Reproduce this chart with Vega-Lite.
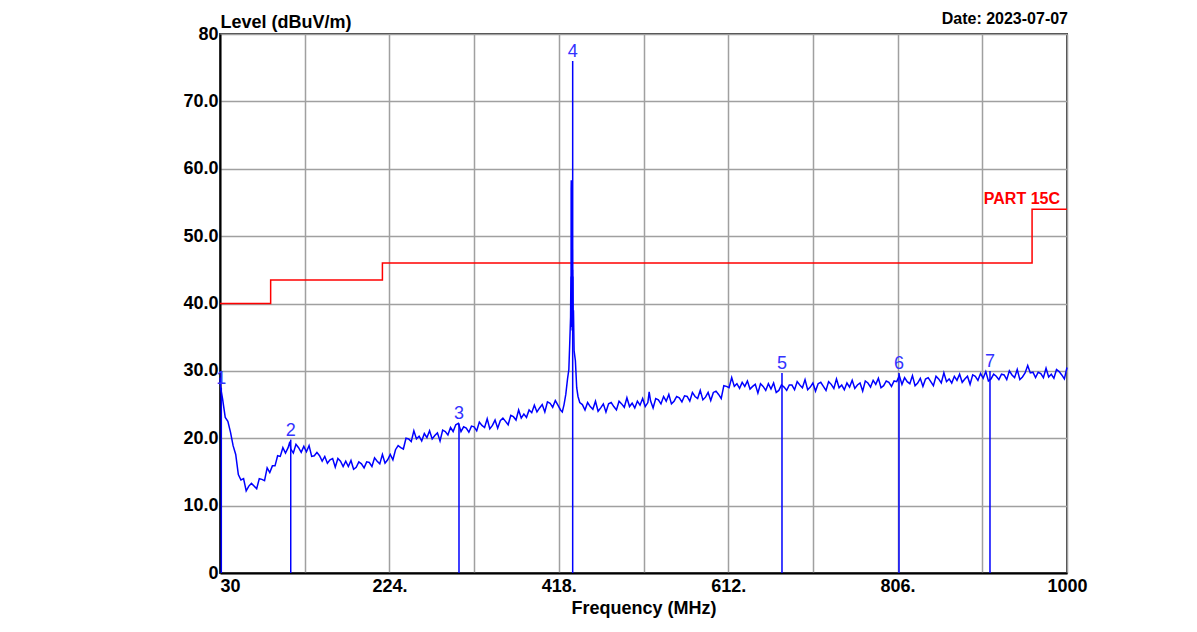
{
  "$schema": "https://vega.github.io/schema/vega-lite/v6.json",
  "width": 847,
  "height": 539,
  "autosize": {"type": "none"},
  "padding": {"left": 220, "top": 34, "right": 130, "bottom": 59},
  "background": "white",
  "config": {
    "font": "Liberation Sans",
    "view": {"stroke": "#404040", "strokeWidth": 2}
  },
  "datasets": {
    "limit": [
      {"i": 1, "f": 30, "v": 40},
      {"i": 2, "f": 88, "v": 40},
      {"i": 3, "f": 88, "v": 43.5},
      {"i": 4, "f": 216, "v": 43.5},
      {"i": 5, "f": 216, "v": 46},
      {"i": 6, "f": 960, "v": 46},
      {"i": 7, "f": 960, "v": 54},
      {"i": 8, "f": 1000, "v": 54}
    ],
    "markers": [
      {"m": "1", "f": 31.5, "v": 27.5},
      {"m": "2", "f": 111, "v": 19.8},
      {"m": "3", "f": 303.7, "v": 22.2},
      {"m": "4", "f": 433.9, "v": 76},
      {"m": "5", "f": 673.6, "v": 29.7},
      {"m": "6", "f": 807.6, "v": 29.7},
      {"m": "7", "f": 911.8, "v": 30}
    ],
    "notes": [
      {"t": "PART 15C", "f": 1000, "v": 54, "k": "limit"},
      {"t": "Date: 2023-07-07", "f": 1000, "v": 80, "k": "date"}
    ],
    "trace": [
      {"f":30,"v":29.0},{"f":31,"v":27.3},{"f":33,"v":25.8},{"f":36,"v":23.1},{"f":39,"v":22.5},{"f":42,"v":20.9},{"f":45,"v":18.9},{"f":48,"v":17.6},{"f":51,"v":14.6},{"f":54,"v":13.8},{"f":57,"v":14.0},{"f":60,"v":12.2},{"f":63,"v":12.9},{"f":66,"v":13.3},{"f":69,"v":12.9},{"f":72,"v":12.5},{"f":75,"v":14.0},{"f":78,"v":13.9},{"f":81,"v":13.7},{"f":84,"v":15.6},{"f":87,"v":14.9},{"f":90,"v":15.9},{"f":93,"v":15.9},{"f":96,"v":17.4},{"f":99,"v":17.3},{"f":102,"v":18.6},{"f":105,"v":17.8},{"f":108,"v":18.6},{"f":110,"v":19.5},{"f":111,"v":18.4},{"f":114,"v":17.8},{"f":117,"v":19.1},{"f":120,"v":18.6},{"f":123,"v":17.9},{"f":126,"v":18.8},{"f":129,"v":18.0},{"f":132,"v":18.9},{"f":135,"v":17.3},{"f":138,"v":17.4},{"f":141,"v":17.9},{"f":144,"v":17.4},{"f":147,"v":16.6},{"f":150,"v":17.3},{"f":153,"v":16.3},{"f":156,"v":16.8},{"f":159,"v":17.0},{"f":162,"v":15.7},{"f":165,"v":17.0},{"f":168,"v":16.6},{"f":171,"v":15.8},{"f":174,"v":16.6},{"f":177,"v":15.8},{"f":180,"v":16.7},{"f":183,"v":15.4},{"f":186,"v":15.7},{"f":189,"v":16.5},{"f":192,"v":16.2},{"f":195,"v":15.6},{"f":198,"v":16.5},{"f":201,"v":16.4},{"f":204,"v":15.8},{"f":207,"v":17.1},{"f":210,"v":16.6},{"f":213,"v":16.2},{"f":216,"v":17.6},{"f":219,"v":16.3},{"f":222,"v":16.8},{"f":225,"v":17.6},{"f":228,"v":16.8},{"f":231,"v":18.3},{"f":234,"v":18.9},{"f":237,"v":18.6},{"f":240,"v":18.4},{"f":243,"v":20.0},{"f":246,"v":19.9},{"f":249,"v":19.5},{"f":252,"v":21.1},{"f":255,"v":19.9},{"f":258,"v":20.3},{"f":261,"v":19.6},{"f":264,"v":20.7},{"f":267,"v":20.1},{"f":270,"v":21.1},{"f":273,"v":19.9},{"f":276,"v":20.4},{"f":279,"v":20.8},{"f":282,"v":19.6},{"f":285,"v":21.2},{"f":288,"v":21.0},{"f":291,"v":20.5},{"f":294,"v":21.6},{"f":297,"v":21.0},{"f":300,"v":22.0},{"f":303,"v":22.2},{"f":306,"v":21.0},{"f":309,"v":21.7},{"f":312,"v":21.5},{"f":315,"v":20.9},{"f":318,"v":21.8},{"f":321,"v":21.7},{"f":324,"v":21.1},{"f":327,"v":22.4},{"f":330,"v":21.9},{"f":333,"v":21.6},{"f":336,"v":22.9},{"f":339,"v":21.4},{"f":342,"v":21.9},{"f":345,"v":22.7},{"f":348,"v":21.5},{"f":351,"v":22.6},{"f":354,"v":23.0},{"f":357,"v":22.5},{"f":360,"v":22.0},{"f":363,"v":23.4},{"f":366,"v":23.2},{"f":369,"v":22.7},{"f":372,"v":24.2},{"f":375,"v":23.0},{"f":378,"v":23.6},{"f":381,"v":23.1},{"f":384,"v":24.2},{"f":387,"v":23.8},{"f":390,"v":24.9},{"f":393,"v":23.9},{"f":396,"v":24.5},{"f":399,"v":25.0},{"f":402,"v":23.9},{"f":405,"v":25.4},{"f":408,"v":25.2},{"f":411,"v":24.6},{"f":414,"v":25.6},{"f":417,"v":24.9},{"f":420,"v":24.2},{"f":422,"v":23.9},{"f":424,"v":25.0},{"f":426,"v":26.5},{"f":428,"v":28.8},{"f":429.5,"v":30.2},{"f":430.5,"v":34.0},{"f":431.5,"v":38.0},{"f":431.85,"v":44.0},{"f":432.0,"v":36.5},{"f":432.15,"v":57.0},{"f":432.3,"v":58.3},{"f":432.45,"v":40.0},{"f":432.6,"v":55.0},{"f":432.75,"v":37.0},{"f":432.9,"v":51.3},{"f":433.05,"v":38.0},{"f":433.2,"v":50.0},{"f":433.35,"v":36.0},{"f":433.5,"v":48.0},{"f":433.65,"v":39.0},{"f":433.8,"v":45.0},{"f":434.0,"v":38.0},{"f":434.2,"v":44.0},{"f":434.5,"v":37.0},{"f":434.8,"v":39.0},{"f":435.5,"v":33.0},{"f":437,"v":31.5},{"f":438.5,"v":27.5},{"f":440,"v":26.2},{"f":442,"v":25.3},{"f":445,"v":25.0},{"f":448,"v":24.2},{"f":451,"v":25.3},{"f":454,"v":24.7},{"f":457,"v":24.3},{"f":460,"v":25.5},{"f":463,"v":24.0},{"f":466,"v":24.5},{"f":469,"v":25.1},{"f":472,"v":23.9},{"f":475,"v":25.1},{"f":478,"v":25.3},{"f":481,"v":24.7},{"f":484,"v":24.2},{"f":487,"v":25.5},{"f":490,"v":25.1},{"f":493,"v":24.6},{"f":496,"v":26.0},{"f":499,"v":24.7},{"f":502,"v":25.2},{"f":505,"v":24.5},{"f":508,"v":25.5},{"f":511,"v":24.9},{"f":514,"v":25.9},{"f":517,"v":24.7},{"f":520,"v":25.3},{"f":521.5,"v":26.9},{"f":523,"v":25.6},{"f":526,"v":24.5},{"f":529,"v":25.9},{"f":532,"v":25.7},{"f":535,"v":25.1},{"f":538,"v":26.2},{"f":541,"v":25.5},{"f":544,"v":26.5},{"f":547,"v":25.1},{"f":550,"v":25.5},{"f":553,"v":26.2},{"f":556,"v":26.0},{"f":559,"v":25.4},{"f":562,"v":26.3},{"f":565,"v":26.2},{"f":568,"v":25.5},{"f":571,"v":26.8},{"f":574,"v":26.2},{"f":577,"v":25.9},{"f":580,"v":27.1},{"f":583,"v":25.7},{"f":586,"v":26.1},{"f":589,"v":26.8},{"f":592,"v":25.6},{"f":595,"v":26.8},{"f":598,"v":27.0},{"f":601,"v":26.5},{"f":604,"v":25.9},{"f":607,"v":27.8},{"f":610,"v":27.7},{"f":613,"v":27.5},{"f":616,"v":29.0},{"f":619,"v":27.7},{"f":622,"v":28.1},{"f":625,"v":27.4},{"f":628,"v":28.3},{"f":631,"v":27.7},{"f":634,"v":28.5},{"f":637,"v":27.3},{"f":640,"v":27.7},{"f":643,"v":28.0},{"f":646,"v":26.7},{"f":649,"v":28.1},{"f":652,"v":27.7},{"f":655,"v":27.1},{"f":658,"v":28.1},{"f":661,"v":27.3},{"f":664,"v":28.2},{"f":667,"v":26.8},{"f":670,"v":27.1},{"f":673,"v":27.9},{"f":676,"v":27.6},{"f":679,"v":27.1},{"f":682,"v":27.9},{"f":685,"v":27.9},{"f":688,"v":27.2},{"f":691,"v":28.4},{"f":694,"v":27.9},{"f":697,"v":27.5},{"f":700,"v":28.7},{"f":703,"v":27.2},{"f":706,"v":27.6},{"f":709,"v":28.2},{"f":712,"v":27.0},{"f":715,"v":28.1},{"f":718,"v":28.3},{"f":721,"v":27.7},{"f":724,"v":27.1},{"f":727,"v":28.4},{"f":730,"v":28.0},{"f":733,"v":27.4},{"f":736,"v":28.8},{"f":739,"v":27.5},{"f":742,"v":27.9},{"f":745,"v":27.2},{"f":748,"v":28.2},{"f":751,"v":27.6},{"f":754,"v":28.6},{"f":757,"v":27.4},{"f":760,"v":27.9},{"f":763,"v":28.2},{"f":766,"v":27.0},{"f":769,"v":28.5},{"f":772,"v":28.2},{"f":775,"v":27.6},{"f":778,"v":28.6},{"f":781,"v":28.0},{"f":784,"v":28.9},{"f":787,"v":27.5},{"f":790,"v":27.8},{"f":793,"v":28.5},{"f":796,"v":28.3},{"f":799,"v":27.7},{"f":802,"v":28.5},{"f":805,"v":28.4},{"f":808,"v":29.3},{"f":811,"v":28.0},{"f":814,"v":29.0},{"f":817,"v":28.4},{"f":820,"v":28.1},{"f":823,"v":29.3},{"f":826,"v":27.8},{"f":829,"v":28.2},{"f":832,"v":28.9},{"f":835,"v":27.7},{"f":838,"v":28.8},{"f":841,"v":29.0},{"f":844,"v":28.4},{"f":847,"v":27.8},{"f":850,"v":29.2},{"f":853,"v":28.8},{"f":856,"v":28.2},{"f":859,"v":29.7},{"f":862,"v":28.4},{"f":865,"v":28.8},{"f":868,"v":28.2},{"f":871,"v":29.2},{"f":874,"v":28.6},{"f":877,"v":29.5},{"f":880,"v":28.3},{"f":883,"v":28.8},{"f":886,"v":29.2},{"f":889,"v":28.0},{"f":892,"v":29.4},{"f":895,"v":29.2},{"f":898,"v":28.6},{"f":901,"v":29.6},{"f":904,"v":28.9},{"f":907,"v":29.9},{"f":910,"v":28.5},{"f":913,"v":28.8},{"f":916,"v":29.5},{"f":919,"v":29.2},{"f":922,"v":28.7},{"f":925,"v":29.5},{"f":928,"v":29.4},{"f":931,"v":28.7},{"f":934,"v":30.0},{"f":937,"v":29.4},{"f":940,"v":29.0},{"f":943,"v":30.2},{"f":946,"v":28.7},{"f":949,"v":29.1},{"f":952,"v":29.7},{"f":955,"v":30.8},{"f":958,"v":29.7},{"f":961,"v":29.8},{"f":964,"v":29.0},{"f":967,"v":29.8},{"f":970,"v":29.6},{"f":973,"v":29.0},{"f":976,"v":30.4},{"f":979,"v":29.1},{"f":982,"v":29.5},{"f":985,"v":28.9},{"f":988,"v":30.2},{"f":991,"v":29.9},{"f":994,"v":29.4},{"f":997,"v":28.8},{"f":1000,"v":30.5}
    ]
  },
  "encoding": {
    "x": {
      "field": "f",
      "type": "quantitative",
      "scale": {"domain": [30, 1000], "nice": false, "zero": false},
      "axis": {
        "title": "Frequency (MHz)",
        "values": [30, 127, 224, 321, 418, 515, 612, 709, 806, 903, 1000],
        "labelExpr": "datum.value == 30 || datum.value == 1000 ? '' + datum.value : (indexof([224, 418, 612, 806], datum.value) >= 0 ? datum.value + '.' : '')",
        "labelAlign": {"condition": {"test": "datum.value == 30", "value": "left"}, "value": "center"},
        "labelFlush": false,
        "labelOverlap": false,
        "ticks": false,
        "domain": true,
        "domainColor": "#000000",
        "domainWidth": 2,
        "grid": true,
        "gridColor": "#a0a0a0",
        "gridWidth": 1.5,
        "labelFontSize": 18,
        "labelFontWeight": "bold",
        "labelColor": "#000000",
        "labelPadding": 4,
        "titleFontSize": 18,
        "titleFontWeight": "bold",
        "titleColor": "#000000",
        "titlePadding": 4
      }
    },
    "y": {
      "field": "v",
      "type": "quantitative",
      "scale": {"domain": [0, 80], "nice": false},
      "axis": {
        "title": "Level (dBuV/m)",
        "values": [0, 10, 20, 30, 40, 50, 60, 70, 80],
        "labelExpr": "datum.value == 0 ? '0' : (datum.value == 80 ? '80' : format(datum.value, '.1f'))",
        "labelFlush": false,
        "labelOverlap": false,
        "ticks": false,
        "domain": true,
        "domainColor": "#000000",
        "domainWidth": 2,
        "grid": true,
        "gridColor": "#a0a0a0",
        "gridWidth": 1.5,
        "labelFontSize": 18,
        "labelFontWeight": "bold",
        "labelColor": "#000000",
        "labelPadding": 2,
        "titleFontSize": 18,
        "titleFontWeight": "bold",
        "titleColor": "#000000",
        "titleAngle": 0,
        "titleAlign": "left",
        "titleBaseline": "alphabetic",
        "titleX": 0,
        "titleY": -7
      }
    }
  },
  "layer": [
    {
      "data": {"name": "limit"},
      "mark": {"type": "line", "color": "#ff0000", "strokeWidth": 1.5},
      "encoding": {"order": {"field": "i", "type": "quantitative"}}
    },
    {
      "data": {"name": "trace"},
      "mark": {"type": "line", "color": "#0000ff", "strokeWidth": 1.5},
      "encoding": {}
    },
    {
      "data": {"name": "markers"},
      "mark": {"type": "rule", "color": "#0000ff", "strokeWidth": 1.5},
      "encoding": {"y2": {"datum": 0}}
    },
    {
      "data": {"name": "markers"},
      "mark": {"type": "text", "color": "#3333ff", "fontSize": 18, "baseline": "alphabetic", "dy": -4},
      "encoding": {"text": {"field": "m"}}
    },
    {
      "data": {"name": "notes"},
      "transform": [{"filter": "datum.k == 'limit'"}],
      "mark": {"type": "text", "color": "#ff0000", "fontSize": 16, "fontWeight": "bold", "align": "right", "baseline": "alphabetic", "dx": -7, "dy": -5},
      "encoding": {"text": {"field": "t"}}
    },
    {
      "data": {"name": "notes"},
      "transform": [{"filter": "datum.k == 'date'"}],
      "mark": {"type": "text", "color": "#000000", "fontSize": 16, "fontWeight": "bold", "align": "right", "baseline": "alphabetic", "dx": 1, "dy": -10},
      "encoding": {"text": {"field": "t"}}
    }
  ]
}
